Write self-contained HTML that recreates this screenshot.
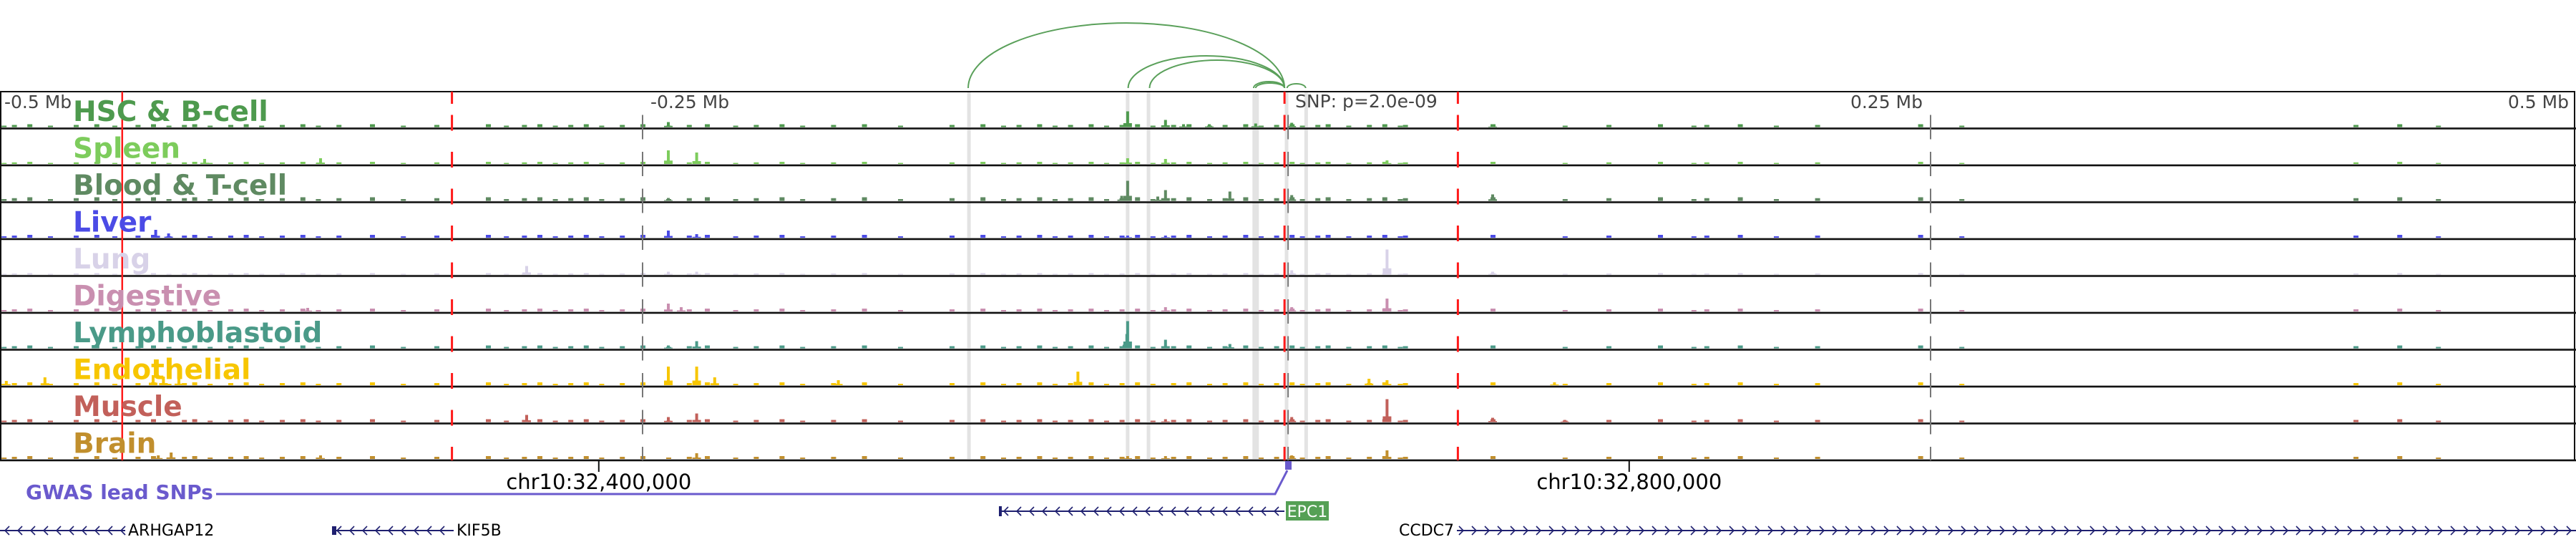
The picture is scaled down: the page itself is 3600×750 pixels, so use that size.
<!DOCTYPE html>
<html><head><meta charset="utf-8">
<style>
html,body{margin:0;padding:0;background:#fff;}
body{width:3600px;height:750px;overflow:hidden;font-family:"DejaVu Sans","Liberation Sans",sans-serif;}
svg{display:block}
</style></head>
<body>
<svg id="chart" width="3600" height="750" viewBox="0 0 3600 750" xmlns="http://www.w3.org/2000/svg"></svg>
<script>
// ---------- data ----------
const trackNames = ["HSC & B-cell","Spleen","Blood & T-cell","Liver","Lung","Digestive","Lymphoblastoid","Endothelial","Muscle","Brain"];
const trackColors = ["#4e9a4e","#7dcc5c","#5f8a62","#4b4be6","#d8d2e8","#c98fb0","#4a9a88","#f7c600","#c2605a","#c18f2d"];
// background bin positions (kb from the lead SNP)
const bgPositions = [-498,-494,-488,-480,-470,-462,-455,-446,-440,-434,-428,-424,-418,-410,-404,-398,-390,-382,-376,-368,-355,-343,-330,-310,-303,-296,-290,-284,-278,-272,-266,-258,-250,-240,-232,-225,-214,-206,-196,-188,-176,-164,-150,-130,-118,-110,-104,-96,-90,-84,-76,-70,-64,-58,-52,-44,-38,-30,-24,-16,-10,-4,2,6,12,16,24,32,38,44,46,80,108,125,145,158,163,176,190,206,246,262,415,432,447];
const bgHeights = [2,1.5,2.5,2,1,2,2,2,2,2];
// prominent peaks per track: [kb, height px]
const peaksHSC = [[-240,7],[-61.7,22],[-47,10],[-40,4],[-30,4],[-12,5],[2,6],[80,3]];
const peaksSpleen = [[-240,19],[-229,16],[-375,8],[-420,7],[-61.7,8],[-47,7],[39,5]];
const peaksBlood = [[-61.7,28],[-47,15],[-22,13],[-64,7],[-50,6],[2,8],[80,9],[-240,4]];
const peaksLiver = [[-439,11],[-434,6],[-240,10],[-229,5],[-61.7,3],[-47,3]];
const peaksLung = [[39,35],[-295,12],[-240,4],[-229,4],[2,6],[80,4]];
const peaksDigestive = [[39,18],[-240,11],[-235,6],[-47,6],[2,6],[-380,5]];
const peaksLympho = [[-61.7,38],[-47,12],[-229,10],[-240,4],[-62,20],[-22,6]];
const peaksEndo = [[-240,26],[-229,26],[-222,11],[-482,11],[-440,14],[-436,12],[-430,9],[-174,7],[-81,19],[32,9],[39,7],[-497,6],[104,4]];
const peaksMuscle = [[39,32],[-295,10],[-229,12],[-240,7],[-47,4],[2,7],[80,6],[108,3]];
const peaksBrain = [[39,12],[-229,8],[-433,9],[-438,5],[-375,5],[-61.7,4],[-47,4],[2,5]];
const trackPeaks = [peaksHSC,peaksSpleen,peaksBlood,peaksLiver,peaksLung,peaksDigestive,peaksLympho,peaksEndo,peaksMuscle,peaksBrain];
const axisLabels = ["-0.5 Mb","-0.25 Mb","0.25 Mb","0.5 Mb"];
const axisLabelPos = [-500,-250,250,500];
const highlightKb = [-123.3,-61.7,-53.6,-12,0,7.6];
const highlightW = [5,5,5,9,5,5];
const arcStartKb = [-123.6,-61.5,-53.2,-12.8,-12,0.2];
const arcEndKb = [-0.8,-0.8,-0.8,-0.8,-0.8,7.4];
const arcHeights = [91,45,39,9,7,6];
const redLinesKb = [-452,-324,-0.8,66.5];
const coordTicksKb = [-267,133];
const coordLabels = ["chr10:32,400,000","chr10:32,800,000"];

// ---------- scales ----------
const X0 = 1798, PXKB = 3.6;
function xs(kb){return X0 + kb*PXKB;}
const TOP = 128, ROWH = 51.5, NROW = 10;
const BOTTOM = TOP + ROWH*NROW;
function rowTop(i){return TOP + i*ROWH;}
function rowBase(i){return TOP + (i+1)*ROWH - 2;}

const svg = document.getElementById('chart');
const NS = "http://www.w3.org/2000/svg";
function el(tag, attrs, parent){
  const e = document.createElementNS(NS, tag);
  for (const k in attrs) e.setAttribute(k, attrs[k]);
  (parent||svg).appendChild(e);
  return e;
}

// highlight bands
for (let i=0;i<highlightKb.length;i++){
  const r = el('rect',{x:xs(highlightKb[i])-highlightW[i]/2,y:TOP,width:highlightW[i],height:ROWH*NROW,fill:'#e3e3e3'});
  
  
}

// arcs
for (let i=0;i<arcStartKb.length;i++){
  const x1 = xs(arcStartKb[i]), x2 = xs(arcEndKb[i]);
  const rx = (x2-x1)/2, ry = arcHeights[i];
  const p = el('path',{d:`M${x1},123 A${rx},${ry} 0 0 1 ${x2},123`,fill:'none',stroke:'#5aa05a','stroke-width':2});
  
  
}

// tracks
for (let t=0;t<NROW;t++){
  const g = el('g',{});
  
  
  const base = rowBase(t);
  el('line',{x1:0,x2:3600,y1:base+0.5,y2:base+0.5,stroke:'#d0d0d0','stroke-width':1},g);
  for (let j=0;j<bgPositions.length;j++){
    const h = bgHeights[t]*(1+(j%3)*0.5);
    const b = el('rect',{x:xs(bgPositions[j])-3,y:base-h,width:7,height:h,fill:trackColors[t]},g);
    
    
  }
  const pk = trackPeaks[t];
  for (let j=0;j<pk.length;j++){
    const h = pk[j][1];
    const b = el('rect',{x:xs(pk[j][0])-2,y:base-h,width:4,height:h,fill:trackColors[t]},g);
    
    
    const s = el('rect',{x:xs(pk[j][0])-6,y:base-h*0.25,width:12,height:h*0.25,fill:trackColors[t]},g);
    
    
  }
  el('line',{x1:0,x2:3600,y1:rowTop(t+1),y2:rowTop(t+1),stroke:'#111','stroke-width':2.5},g);
}

// panel border
const border = el('rect',{x:1,y:TOP,width:3597,height:ROWH*NROW,fill:'none',stroke:'#111','stroke-width':2});



// grey dashed lines at axis ticks
const greyKb = [-250,0.6,250];
for (let i=0;i<greyKb.length;i++){
  for (let r=0;r<NROW;r++){
    const yb = rowTop(r+1);
    const l = el('line',{x1:xs(greyKb[i]),x2:xs(greyKb[i]),y1:yb-19,y2:Math.min(yb+15,BOTTOM),stroke:'#777','stroke-width':2});
    
    
  }
}
// red lines
for (let i=0;i<redLinesKb.length;i++){
  const x = xs(redLinesKb[i]);
  if (i===0){
    const l = el('line',{x1:x,x2:x,y1:TOP,y2:BOTTOM,stroke:'#ff1a1a','stroke-width':2.5});
    
    
  } else {
    for (let r=0;r<NROW;r++){
      const yb = rowTop(r+1);
      const l = el('line',{x1:x,x2:x,y1:yb-19,y2:Math.min(yb+3,BOTTOM),stroke:'#ff1a1a','stroke-width':3});
      
      
    }
    const l2 = el('line',{x1:x,x2:x,y1:TOP,y2:TOP+17,stroke:'#ff1a1a','stroke-width':3});
    
    
  }
}

// axis labels
for (let i=0;i<axisLabels.length;i++){
  const left = axisLabelPos[i]<0;
  const x = left ? xs(axisLabelPos[i])+ (i===0?8:11) : xs(axisLabelPos[i]) - (i===3?8:11);
  const tx = el('text',{x:x,y:151,'font-size':25,fill:'#444','text-anchor':left?'start':'end','font-family':'DejaVu Sans, sans-serif'});
  tx.textContent = axisLabels[i];
  
  
}
const snp = el('text',{x:1810,y:150,'font-size':25,fill:'#444','font-family':'DejaVu Sans, sans-serif'});
snp.textContent = 'SNP: p=2.0e-09';



// track labels
for (let t=0;t<NROW;t++){
  const tx = el('text',{x:102,y:rowTop(t)+41,'font-size':39,'font-weight':'bold',fill:trackColors[t],'font-family':'DejaVu Sans, sans-serif'});
  tx.textContent = trackNames[t];
  
  
}

// coordinate ticks
for (let i=0;i<coordTicksKb.length;i++){
  const x = xs(coordTicksKb[i]);
  const l = el('line',{x1:x,x2:x,y1:644,y2:659,stroke:'#111','stroke-width':2});
  
  
  const tx = el('text',{x:x,y:683,'font-size':29,fill:'#000','text-anchor':'middle','font-family':'DejaVu Sans, sans-serif'});
  tx.textContent = coordLabels[i];
  
  
}

// GWAS
const gw = el('text',{x:36,y:697,'font-size':28,'font-weight':'bold',fill:'#6a5acd','font-family':'DejaVu Sans, sans-serif'});
gw.textContent = 'GWAS lead SNPs';


const gl = el('polyline',{points:'302,690 1782,690 1799,657',fill:'none',stroke:'#6a5acd','stroke-width':3});


const gs = el('rect',{x:1796,y:644,width:9,height:12,fill:'#6a5acd'});



// genes
function gene(name,x1,x2,y,dir,label,lx,anchor){
  const g = el('g',{});
  
  
  el('line',{x1:x1,x2:x2,y1:y,y2:y,stroke:'#1f2070','stroke-width':2},g);
  for (let x=x1+8;x<x2-4;x+=18){
    const d = dir<0 ? `M${x+5},${y-6} L${x-1},${y} L${x+5},${y+6}` : `M${x-5},${y-6} L${x+1},${y} L${x-5},${y+6}`;
    el('path',{d:d,fill:'none',stroke:'#1f2070','stroke-width':1.6},g);
  }
  if (label){
    const tx = el('text',{x:lx,y:y+7,'font-size':22,fill:'#000','text-anchor':anchor,'font-family':'DejaVu Sans, sans-serif'},g);
    tx.textContent = name;
  }
  return g;
}
gene('ARHGAP12',0,175,741,-1,true,179,'start');
const kg = gene('KIF5B',464,634,741,-1,true,638,'start');
el('rect',{x:464,y:735,width:6,height:12,fill:'#1f2070'},kg);
const eg = gene('EPC1',1396,1795,714,-1,false);
el('rect',{x:1396,y:707,width:4,height:14,fill:'#1f2070'},eg);
el('rect',{x:1797,y:700,width:60,height:27,fill:'#55a055'},eg);
const et = el('text',{x:1827,y:722,'font-size':22,fill:'#fff','text-anchor':'middle','font-family':'DejaVu Sans, sans-serif'},eg);
et.textContent = 'EPC1';
gene('CCDC7',2036,3600,741,1,true,2032,'end');
</script>
</body></html>
